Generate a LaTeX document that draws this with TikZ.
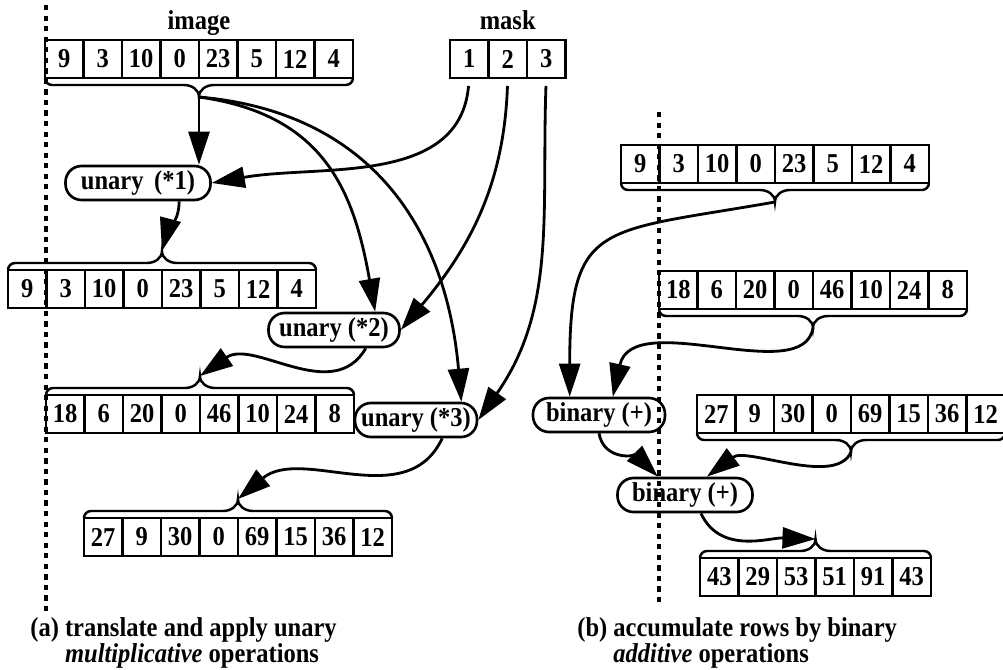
\documentclass[tikz,border=0pt]{standalone}
\usepackage{fontspec}
\setmainfont{Liberation Serif}[FakeStretch=0.9]
\usetikzlibrary{positioning,calc,arrows.meta}

% a row of cells: name, north west corner, values
\newcommand{\numrow}[3]{%
  \foreach \v [count=\i] in {#3} {
    \ifnum\i=1
      \node[cell,anchor=north west] (#1-1) at (#2) {\v};
    \else
      \pgfmathtruncatemacro{\j}{\i-1}
      \node[cell,right=0pt of #1-\j] (#1-\i) {\v};
    \fi
  }
}
% curly brace under / over a row, its tip is a coordinate
\newcommand{\bracebelow}[3]{%
  \coordinate (#3-mid) at ($(#1.south west)!0.5!(#2.south east)$);
  \draw[brace] (#1.south west) to[out=-90,in=180] ++(7,-7)
    -- ($(#3-mid)+(-15,-7)$) to[out=0,in=90] ($(#3-mid)+(0,-19)$) coordinate (#3)
    to[out=90,in=180] ($(#3-mid)+(15,-7)$)
    -- ($(#2.south east)+(-7,-7)$) to[out=0,in=-90] (#2.south east);
}
\newcommand{\braceabove}[3]{%
  \coordinate (#3-mid) at ($(#1.north west)!0.5!(#2.north east)$);
  \draw[brace] (#1.north west) to[out=90,in=180] ++(7,7)
    -- ($(#3-mid)+(-15,7)$) to[out=0,in=-90] ($(#3-mid)+(0,19)$) coordinate (#3)
    to[out=-90,in=180] ($(#3-mid)+(15,7)$)
    -- ($(#2.north east)+(-7,7)$) to[out=0,in=90] (#2.north east);
}

\begin{document}
\begin{tikzpicture}[x=0.02cm,y=0.02cm,
  font=\bfseries\fontsize{15.5}{12.5}\selectfont,
  cell/.style={draw,line width=1.5pt,minimum width=0.77cm,minimum height=0.76cm,inner sep=0pt,outer sep=0pt},
  op/.style={draw,line width=1.5pt,rounded corners=0.32cm,minimum height=0.68cm,inner xsep=3pt,inner ysep=0pt},
  title/.style={above=0pt,text depth=0.25em},
  brace/.style={line width=1.4pt},
  flow/.style={line width=1.6pt,-{Triangle[length=0.66cm,width=0.42cm]}},
  divider/.style={line width=2.2pt,dash pattern=on 3pt off 3pt}]
  \useasboundingbox (0,0) rectangle (1003,-669);

  %left
  \numrow{a0}{45,-40}{9,3,10,0,23,5,12,4}
  \bracebelow{a0-1}{a0-8}{a0tip}
  \node[title] (imglbl) at (a0-4.north east) {image};
  \numrow{m}{450,-40}{1,2,3}
  \node[title] (masklbl) at (m-2.north) {mask};

  \node[op,minimum width=2.9cm] (u1) at (138,-183) {unary \,(*1)};
  \numrow{a1}{8,-270}{9,3,10,0,23,5,12,4}
  \braceabove{a1-1}{a1-8}{a1tip}
  \node[op,minimum width=2.62cm] (u2) at (334,-330) {unary (*2)};
  \numrow{a2}{46,-395}{18,6,20,0,46,10,24,8}
  \braceabove{a2-1}{a2-8}{a2tip}
  \node[op,minimum width=2.44cm] (u3) at (416,-420) {unary (*3)};
  \numrow{a3}{84,-518}{27,9,30,0,69,15,36,12}
  \braceabove{a3-1}{a3-8}{a3tip}

  \draw[flow] (a0tip) -- (a0tip |- u1.north);
  \draw[flow] (a0tip) to[out=-8,in=100,looseness=1.15] (u2.24);
  \draw[flow] (a0tip) to[out=-5,in=95,looseness=1.1] (u3.22);
  \draw[flow,shorten <=0.16cm] (m-1.south) to[out=-95,in=10] (u1.east);
  \draw[flow,shorten <=0.16cm] (m-2.south) to[out=-92,in=50] (u2.east);
  \draw[flow,shorten <=0.16cm] (m-3.south) to[out=-92,in=55] (u3.east);
  \draw[flow] (u1.-24) to[out=-90,in=75] (a1tip);
  \draw[flow] (u2.-30) to[out=-120,in=35] (a2tip);
  \draw[flow] (u3.-35) to[out=-115,in=40] (a3tip);

  \node[anchor=north west,align=left,inner sep=0pt] (capa) at (30,-617)
    {(a) translate and apply unary\\\phantom{(a) }\textit{multiplicative} operations};

  %right
  \numrow{b0}{621,-145}{9,3,10,0,23,5,12,4}
  \bracebelow{b0-1}{b0-8}{b0tip}
  \numrow{b1}{659,-271}{18,6,20,0,46,10,24,8}
  \bracebelow{b1-1}{b1-8}{b1tip}
  \numrow{b2}{697,-395}{27,9,30,0,69,15,36,12}
  \bracebelow{b2-1}{b2-8}{b2tip}
  \node[op,minimum width=2.64cm] (bin1) at (599,-415) {binary (+)};
  \node[op,minimum width=2.7cm] (bin2) at (685,-495) {binary (+)};
  \numrow{b3}{700,-558}{43,29,53,51,91,43}
  \braceabove{b3-1}{b3-6}{b3tip}

  \draw[flow] (b0tip) to[out=190,in=90,looseness=1.6] (bin1.148);
  \draw[flow] (b1tip) .. controls +(-10,-60) and +(20,90) .. (bin1.53);
  \draw[flow] (bin1.south) to[out=-80,in=135] (bin2.146);
  \draw[flow] (b2tip) .. controls +(-15,-35) and +(40,30) .. (bin2.40);
  \draw[flow] (bin2.-49) to[out=-65,in=178] (b3tip);

  \node[anchor=north west,align=left,inner sep=0pt] (capb) at (577,-617)
    {(b) accumulate rows by binary\\\phantom{(b) }\textit{additive} operations};

  % dividers between the two halves
  \draw[divider] (46,-5) -- (46,-612);
  \draw[divider] (659,-112) -- (659,-603);
\end{tikzpicture}
\end{document}
